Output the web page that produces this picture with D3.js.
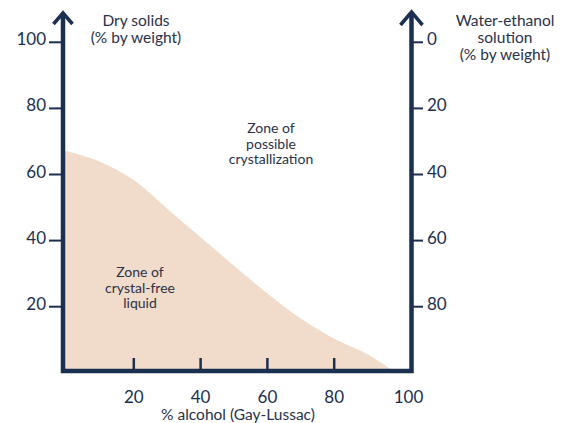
<!DOCTYPE html>
<html><head><meta charset="utf-8">
<script src="https://cdn.jsdelivr.net/npm/d3@7"></script>
<style>body{margin:0;background:#fff}svg{display:block}text{font-family:Lato,"Open Sans",sans-serif}</style>
</head><body>
<script>
// Data
const alcohol = [0, 10, 20, 30, 40, 50, 60, 70, 80, 90, 98];
const drySolids = [67, 63.8, 58.3, 49.6, 41.0, 32.4, 24.0, 16.4, 10.3, 5.6, 0.3];
const xTicks = [20, 40, 60, 80, 100];
const yTicks = [20, 40, 60, 80, 100];
const rightTickLabels = ["80", "60", "40", "20", "0"]; // water-ethanol (% by weight), paired with yTicks
const leftTitle = ["Dry solids", "(% by weight)"];
const rightTitle = ["Water-ethanol", "solution", "(% by weight)"];
const xTitle = "% alcohol (Gay-Lussac)";
const zoneUpper = ["Zone of", "possible", "crystallization"];
const zoneLower = ["Zone of", "crystal-free", "liquid"];

const W = 570, H = 423;
const navy = "#1b2f50", txt = "#2a3148", fill = "#f1dccb";
const svg = d3.select("body").append("svg").attr("width", W).attr("height", H);

const x = d3.scaleLinear().domain([0, 100]).range([67, 401]);
const y = d3.scaleLinear().domain([0, 100]).range([372.8, 42.3]);
const frameL = 63, frameR = 411.5, frameB = 371;

// area
const area = d3.area().x((d, i) => x(alcohol[i])).y0(y(0)).y1(d => y(d)).curve(d3.curveCatmullRom.alpha(0.5));
svg.append("path").datum(drySolids).attr("d", area).attr("fill", fill);
svg.append("rect").attr("x", frameL).attr("y", y(drySolids[0])).attr("width", x(0) - frameL + 0.5)
  .attr("height", y(0) - y(drySolids[0])).attr("fill", fill);

// x ticks (inside, upward)
svg.selectAll(".xt").data(xTicks.filter(d => d < 100)).enter().append("line")
  .attr("x1", d => x(d)).attr("x2", d => x(d)).attr("y1", frameB).attr("y2", frameB - 13)
  .attr("stroke", navy).attr("stroke-width", 2.5);
svg.selectAll(".xl").data(xTicks).enter().append("text")
  .attr("x", d => d === 100 ? frameR - 3 : x(d)).attr("y", 403).attr("text-anchor", "middle")
  .attr("font-size", 17).attr("fill", navy).text(d => d);

// left ticks
svg.selectAll(".yt").data(yTicks).enter().append("line")
  .attr("x1", 49).attr("x2", frameL).attr("y1", d => y(d)).attr("y2", d => y(d))
  .attr("stroke", navy).attr("stroke-width", 2);
svg.selectAll(".yl").data(yTicks).enter().append("text")
  .attr("x", 46).attr("y", d => y(d) + 3).attr("text-anchor", "end")
  .attr("font-size", 17).attr("fill", navy).text(d => d);

// right ticks
svg.selectAll(".rt").data(yTicks).enter().append("line")
  .attr("x1", frameR).attr("x2", 423).attr("y1", d => y(d)).attr("y2", d => y(d))
  .attr("stroke", navy).attr("stroke-width", 2);
svg.selectAll(".rl").data(yTicks).enter().append("text")
  .attr("x", 427).attr("y", d => y(d) + 3).attr("text-anchor", "start")
  .attr("font-size", 17).attr("fill", navy).text((d, i) => rightTickLabels[i]);

// axis lines
svg.append("path").attr("d", `M${frameL},14 V${frameB} H${frameR} V13`)
  .attr("fill", "none").attr("stroke", navy).attr("stroke-width", 4.5).attr("stroke-linejoin", "miter");
// arrowheads
svg.append("path").attr("d", `M${frameL - 9.5},24 L${frameL},13 L${frameL + 9.5},24`)
  .attr("fill", "none").attr("stroke", navy).attr("stroke-width", 3.5);
svg.append("path").attr("d", `M${frameR - 11},25 L${frameR},12 L${frameR + 11},25`)
  .attr("fill", "none").attr("stroke", navy).attr("stroke-width", 3.5);

// titles
function lines(arr, cx, y0, dy, size) {
  svg.append("g").selectAll("text").data(arr).enter().append("text")
    .attr("x", cx).attr("y", (d, i) => y0 + i * dy).attr("text-anchor", "middle")
    .attr("font-size", size).attr("fill", txt).text(d => d);
}
lines(leftTitle, 136, 26, 17, 15.5);
lines(rightTitle, 505, 26, 17, 15.5);
svg.append("text").attr("x", 238).attr("y", 420).attr("text-anchor", "middle")
  .attr("font-size", 15.5).attr("fill", txt).text(xTitle);
lines(zoneUpper, 271, 133, 15.5, 14);
lines(zoneLower, 140, 277, 15.5, 14);
</script>
</body></html>
